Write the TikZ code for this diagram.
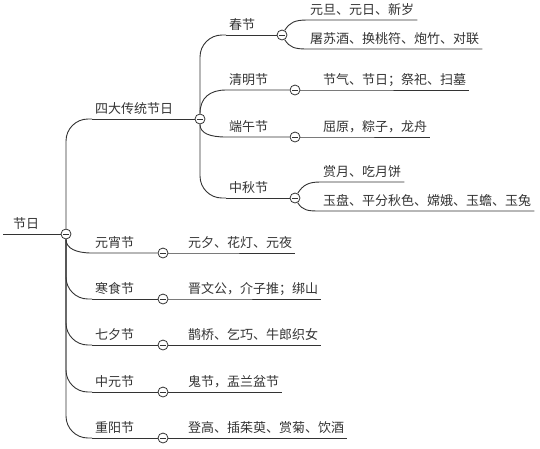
\documentclass[tikz,border=0pt]{standalone}
\usepackage{fontspec}
\newfontfamily\cjk{Noto Sans CJK SC}
\usepackage{tikz}
\usetikzlibrary{calc}

\begin{document}
\begin{tikzpicture}[x=1pt, y=-1pt,
  topic/.style={anchor=south west, inner xsep=3pt, inner ysep=0pt, text height=11pt, text depth=5pt, text=black!80, font=\cjk\fontsize{13pt}{15pt}\selectfont},
  fold/.style={circle, draw=black!80, fill=white, line width=0.8pt, minimum size=10pt, inner sep=0pt,
    path picture={\draw[line width=0.8pt, black!80] ([xshift=-2.6pt]path picture bounding box.center) -- ([xshift=2.6pt]path picture bounding box.center);}},
  link/.style={draw=black!80, line width=0.9pt},
  trunk/.style={link, rounded corners=22pt}]
\useasboundingbox (0,0) rectangle (540,448);

\node [topic, inner xsep=10pt] (jieri) at (3,234) {节日};
\node [topic] (sida) at (92,119) {四大传统节日};
\node [topic] (chunjie) at (226,35) {春节};
\node [topic] (qingming) at (226,90) {清明节};
\node [topic] (duanwu) at (226,137) {端午节};
\node [topic] (zhongqiu) at (226,198) {中秋节};
\node [topic] (yuandan) at (307,20) {元旦、元日、新岁};
\node [topic] (tusu) at (307,49) {屠苏酒、换桃符、炮竹、对联};
\node [topic] (jieqi) at (320,90) {节气、节日；祭祀、扫墓};
\node [topic] (quyuan) at (320,137) {屈原，粽子，龙舟};
\node [topic] (shangyue) at (320,182) {赏月、吃月饼};
\node [topic] (yupan) at (320,211) {玉盘、平分秋色、嫦娥、玉蟾、玉兔};
\node [topic] (yuanxiao) at (92,253) {元宵节};
\node [topic] (hanshi) at (92,299) {寒食节};
\node [topic] (qixi) at (92,345) {七夕节};
\node [topic] (zhongyuan) at (92,392) {中元节};
\node [topic] (chongyang) at (92,438) {重阳节};
\node [topic] (yuanxi) at (185,253) {元夕、花灯、元夜};
\node [topic] (jinwen) at (185,299) {晋文公，介子推；绑山};
\node [topic] (queqiao) at (185,345) {鹊桥、乞巧、牛郎织女};
\node [topic] (guijie) at (185,392) {鬼节，盂兰盆节};
\node [topic] (denggao) at (185,438) {登高、插茱萸、赏菊、饮酒};

\node [fold] (jieri-m) at (66,234) {};
\node [fold] (sida-m) at (200,119) {};
\node [fold] (chunjie-m) at (282,35) {};
\node [fold] (qingming-m) at (295,90) {};
\node [fold] (duanwu-m) at (295,137) {};
\node [fold] (zhongqiu-m) at (295,198) {};
\node [fold] (yuanxiao-m) at (163,253) {};
\node [fold] (hanshi-m) at (163,299) {};
\node [fold] (qixi-m) at (163,345) {};
\node [fold] (zhongyuan-m) at (163,392) {};
\node [fold] (chongyang-m) at (163,438) {};

\draw [link] (jieri.south west) -- (jieri-m);
\draw [trunk] (jieri-m) |- (sida.south west);
\draw [link] (sida.south west) -- (sida-m);
\draw [trunk] (sida-m) |- (chunjie.south west);
\draw [link] (chunjie.south west) -- (chunjie-m);
\draw [link] (sida-m.north) .. controls +(0,-16) and +(-16,0) .. (qingming.south west) -- (qingming-m);
\draw [link] (sida-m.south) .. controls +(0,9) and +(-16,0) .. (duanwu.south west) -- (duanwu-m);
\draw [trunk] (sida-m) |- (zhongqiu.south west);
\draw [link] (zhongqiu.south west) -- (zhongqiu-m);
\draw [link] (chunjie-m.60) .. controls +(5,-8) and +(-12,0) .. (yuandan.south west) -- (yuandan.south east);
\draw [link] (chunjie-m.-60) .. controls +(5,8) and +(-12,0) .. (tusu.south west) -- (tusu.south east);
\draw [link] (qingming-m) -- (jieqi.south west) -- (jieqi.south east);
\draw [link] (duanwu-m) -- (quyuan.south west) -- (quyuan.south east);
\draw [link] (zhongqiu-m.60) .. controls +(5,-8) and +(-12,0) .. (shangyue.south west) -- (shangyue.south east);
\draw [link] (zhongqiu-m.-60) .. controls +(5,8) and +(-12,0) .. (yupan.south west) -- (yupan.south east);
\draw [link] (jieri-m.south) .. controls +(0,9) and +(-16,0) .. (yuanxiao.south west) -- (yuanxiao-m);
\draw [trunk] (jieri-m) |- (hanshi.south west);
\draw [link] (hanshi.south west) -- (hanshi-m);
\draw [trunk] (jieri-m) |- (qixi.south west);
\draw [link] (qixi.south west) -- (qixi-m);
\draw [trunk] (jieri-m) |- (zhongyuan.south west);
\draw [link] (zhongyuan.south west) -- (zhongyuan-m);
\draw [trunk] (jieri-m) |- (chongyang.south west);
\draw [link] (chongyang.south west) -- (chongyang-m);
\draw [link] (yuanxiao-m) -- (yuanxi.south west) -- (yuanxi.south east);
\draw [link] (hanshi-m) -- (jinwen.south west) -- (jinwen.south east);
\draw [link] (qixi-m) -- (queqiao.south west) -- (queqiao.south east);
\draw [link] (zhongyuan-m) -- (guijie.south west) -- (guijie.south east);
\draw [link] (chongyang-m) -- (denggao.south west) -- (denggao.south east);
\end{tikzpicture}
\end{document}
